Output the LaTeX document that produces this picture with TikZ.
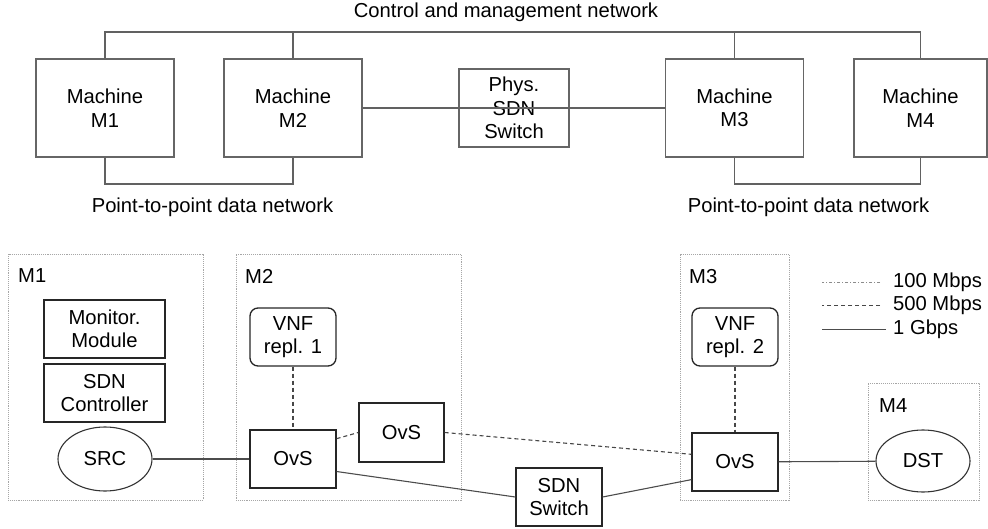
\documentclass[tikz,border=0pt]{standalone}
\usepackage{fontspec}
\setmainfont{Liberation Sans}
\usetikzlibrary{shapes.geometric}

\tikzset{
  every node/.style={font=\fontsize{20.2}{23.5}\selectfont, align=center},
  machine/.style={draw=black!60, line width=1.1pt, minimum width=138, minimum height=98},
  comp/.style={draw=black!85, line width=1.3pt, minimum width=86, minimum height=58},
  vnf/.style={comp, rounded corners=8pt},
  host/.style={draw=black!80, line width=1.1pt, ellipse, minimum width=94, minimum height=64},
  zone/.style={draw=black!35, densely dotted, line width=0.9pt},
  tag/.style={anchor=west, inner sep=0pt},
  net/.style={draw=black!62, line width=1.1pt},
  link/.style={draw=black!70, line width=1.1pt},
  slow/.style={draw=black!45, line width=0.8pt, dash pattern=on 3pt off 2pt on 1pt off 2pt},
  mid/.style={draw=black!72, line width=1.1pt, dash pattern=on 4pt off 3pt}
}

\begin{document}
\begin{tikzpicture}[x=1pt,y=-1pt]
  \useasboundingbox (0,0) rectangle (988,529);

  % physical testbed
  \node (ctltext) at (506,12) {Control and management network};
  \node[machine] (m1) at (105,108) {Machine\\M1};
  \node[machine] (m2) at (293,108) {Machine\\M2};
  \node[draw=black!60, line width=1.1pt, minimum width=110, minimum height=78] (phys) at (514,108) {Phys.\\SDN\\Switch};
  \node[machine] (m3) at (734.5,108) {Machine\\M3};
  \node[machine, minimum width=133] (m4) at (920.5,108) {Machine\\M4};
  \coordinate (ctlbus) at (0,32);
  \coordinate (databus) at (0,184);

  \draw[net] (m1.north) |- (ctlbus -| m4.north) -- (m4.north);
  \draw[net] (m2.north) -- (m2.north |- ctlbus);
  \draw[net] (m3.north) -- (m3.north |- ctlbus);
  \draw[net] (m1.south) |- (databus -| m2.south) -- (m2.south);
  \draw[net] (m3.south) |- (databus -| m4.south) -- (m4.south);
  \draw[net] (m2.east) -- (phys.west) -- (m3.west);
  \node (datal) at (212.5,207) {Point-to-point data network};
  \node (datar) at (808.5,207) {Point-to-point data network};

  % logical topology
  \node[zone, minimum width=195, minimum height=246] (z1) at (105.5,377) {};
  \node[zone, minimum width=225, minimum height=246] (z2) at (348.5,377) {};
  \node[zone, minimum width=109, minimum height=246] (z3) at (734.5,377) {};
  \node[zone, minimum width=111, minimum height=117] (z4) at (923.5,441.5) {};
  \node[tag] (t1) at (18,276) {M1};
  \node[tag] (t2) at (245,276) {M2};
  \node[tag] (t3) at (689,277) {M3};
  \node[tag] (t4) at (879,406) {M4};

  \node[comp, minimum width=121] (mon) at (104.5,329) {Monitor.\\Module};
  \node[comp, minimum width=121] (ctrl) at (104.5,393) {SDN\\Controller};
  \node[host] (src) at (105,459) {SRC};
  \node[vnf] (vnfa) at (293,337) {VNF\\repl. 1};
  \node[comp] (ovsa) at (293,459) {OvS};
  \node[comp, minimum width=85, minimum height=59] (ovsm) at (401.5,432.5) {OvS};
  \node[comp] (sdn) at (559,497) {SDN\\Switch};
  \node[vnf] (vnfb) at (735,337) {VNF\\repl. 2};
  \node[comp] (ovsb) at (735,462) {OvS};
  \node[host, minimum height=62] (dst) at (923,461) {DST};

  \draw[link] (src) -- (ovsa);
  \draw[mid] (vnfa) -- (ovsa);
  \draw[mid] (ovsa.25) -- (ovsm.west);
  \draw[mid] (ovsm.east) -- (ovsb.170);
  \draw[link] (ovsa.-16) -- (sdn.west);
  \draw[link] (sdn.east) -- (ovsb.-158);
  \draw[link] (ovsb) -- (dst);
  \draw[mid] (vnfb) -- (ovsb);

  % legend
  \node[tag] (l100) at (893,282) {100 Mbps};
  \node[tag] (l500) at (893,305) {500 Mbps};
  \node[tag] (l1g) at (893,329) {1 Gbps};
  \draw[slow] (l100.west) ++(-13,0) -- ++(-58,0);
  \draw[mid, line width=0.8pt] (l500.west) ++(-13,0) -- ++(-58,0);
  \draw[link, line width=0.8pt] (l1g.west) ++(-7,0) -- ++(-64,0);
\end{tikzpicture}
\end{document}
